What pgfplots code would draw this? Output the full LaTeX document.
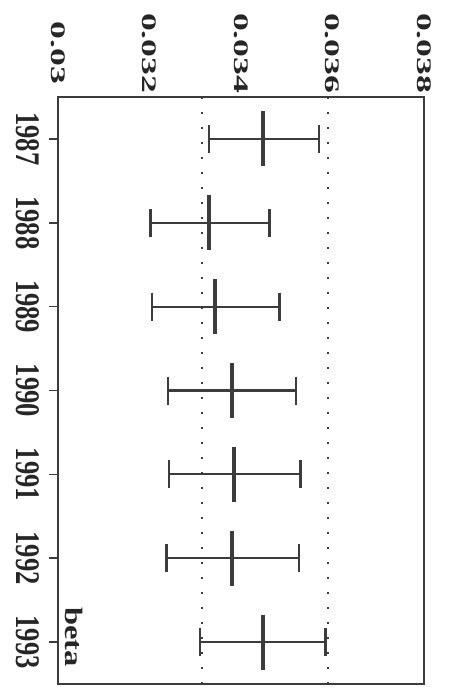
\documentclass[border=0pt]{standalone}
\usepackage{fontspec}
\setmainfont{Liberation Serif}
\newfontfamily\vfont[FakeStretch=1.72]{Liberation Serif}
\newfontfamily\yfont[FakeStretch=0.77]{Liberation Serif}
\newfontfamily\bfont[FakeStretch=1.3]{Liberation Serif}
\usepackage{pgfplots}
\usepackage{pgfplotstable}
\pgfplotsset{compat=1.18}
\definecolor{ink}{RGB}{60,60,60}
\newcommand\vlab[1]{{\fontsize{20.7bp}{24bp}\vfont\bfseries #1}}
\newcommand\ylab[1]{{\fontsize{34.5bp}{36bp}\yfont\bfseries #1}}
\newcommand\blab[1]{{\fontsize{25bp}{30bp}\bfont\bfseries #1}}
\pgfplotstableread{
yr c lo hi
1987 0.03449 0.03330 0.03570
1988 0.03330 0.03202 0.03462
1989 0.03343 0.03205 0.03484
1990 0.03380 0.03240 0.03520
1991 0.03385 0.03242 0.03530
1992 0.03380 0.03237 0.03527
1993 0.03449 0.03310 0.03585
}\betadata
\begin{document}
\begin{tikzpicture}
\path[use as bounding box] (0,0) rectangle (450bp,687bp);
\begin{axis}[
  at={(58bp,3bp)}, anchor=south west,
  scale only axis, width=366bp, height=587bp,
  xmin=0.03, xmax=0.038, ymin=1986.5, ymax=1993.5,
  y dir=reverse,
  clip=false,
  axis line style={ink, line width=2bp},
  xtick={0.03,0.032,0.034,0.036,0.038},
  xticklabels={\vlab{0.03},\vlab{0.032},\vlab{0.034},\vlab{0.036},\vlab{0.038}},
  xticklabel pos=upper,
  xticklabel style={yshift=36bp, rotate=-90, anchor=center, text=black!85},
  ytick={1987,1988,1989,1990,1991,1992,1993},
  yticklabels={\ylab{1987},\ylab{1988},\ylab{1989},\ylab{1990},\ylab{1991},\ylab{1992},\ylab{1993}},
  xtick pos=right,
  ytick pos=left,
  tick align=outside,
  xtick style={draw=none},
  ytick style={draw=ink, line width=1.5bp},
  major tick length=8bp,
  yticklabel style={xshift=-22bp, rotate=-90, anchor=center, text=black!85},
]
\addplot[ink, line width=1.3bp, dash pattern=on 1.5bp off 13.5bp] coordinates {(0.03315,1986.5) (0.03315,1993.5)};
\addplot[ink, line width=1.3bp, dash pattern=on 1.5bp off 13.5bp] coordinates {(0.03590,1986.5) (0.03590,1993.5)};
% year tick marks on the left edge
\addplot[ink, only marks, mark=-, mark size=4.5bp, mark options={line width=1.5bp}]
  table[x expr=0.0299016, y=yr] {\betadata};
% horizontal interval lines
\addplot[ink, only marks, mark=none,
  error bars/.cd, x dir=both, x explicit, error mark=none,
  error bar style={line width=2.2bp, ink}]
  table[x=c, y=yr, x error plus expr=\thisrow{hi}-\thisrow{c}, x error minus expr=\thisrow{c}-\thisrow{lo}] {\betadata};
% end caps
\addplot[ink, only marks, mark=|, mark size=14bp, mark options={line width=2.4bp}]
  table[x=lo, y=yr] {\betadata};
\addplot[ink, only marks, mark=|, mark size=14bp, mark options={line width=2.4bp}]
  table[x=hi, y=yr] {\betadata};
% estimates
\addplot[ink, only marks, mark=|, mark size=27.5bp, mark options={line width=4bp}]
  table[x=c, y=yr] {\betadata};
\node[rotate=-90, text=black!85] at (axis cs:0.03036,1992.94) {\blab{beta}};
\end{axis}
\end{tikzpicture}
\end{document}
